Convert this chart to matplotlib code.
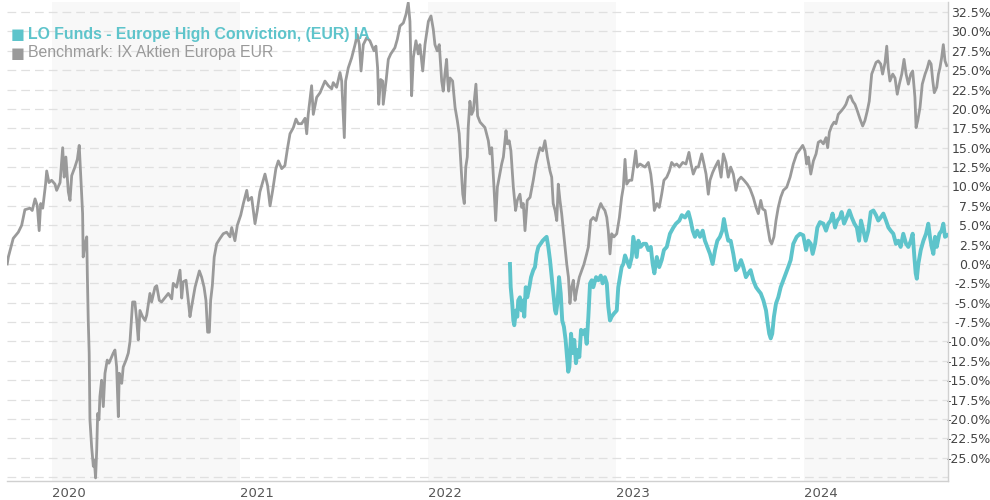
import numpy as np
import matplotlib
matplotlib.use("Agg")
import matplotlib.pyplot as plt

# benchmark: decimal year, cumulative performance in %
bench_t = [
    2019.762, 2019.768, 2019.786, 2019.794, 2019.821, 2019.839, 2019.856, 2019.883, 2019.895, 2019.910,
    2019.922, 2019.932, 2019.940, 2019.951, 2019.966, 2019.972, 2019.984, 2019.998, 2020.016, 2020.025,
    2020.043, 2020.057, 2020.065, 2020.074, 2020.087, 2020.096, 2020.105, 2020.122, 2020.135, 2020.145,
    2020.154, 2020.163, 2020.166, 2020.176, 2020.185, 2020.188, 2020.193, 2020.198, 2020.202, 2020.211,
    2020.220, 2020.225, 2020.232, 2020.238, 2020.243, 2020.250, 2020.255, 2020.264, 2020.273, 2020.282,
    2020.294, 2020.303, 2020.326, 2020.335, 2020.344, 2020.353, 2020.358, 2020.371, 2020.379, 2020.394,
    2020.406, 2020.415, 2020.429, 2020.441, 2020.451, 2020.459, 2020.468, 2020.482, 2020.495, 2020.504,
    2020.521, 2020.530, 2020.548, 2020.557, 2020.571, 2020.583, 2020.619, 2020.637, 2020.645, 2020.663,
    2020.681, 2020.690, 2020.698, 2020.713, 2020.725, 2020.734, 2020.743, 2020.761, 2020.784, 2020.796,
    2020.809, 2020.819, 2020.828, 2020.837, 2020.844, 2020.853, 2020.863, 2020.876, 2020.894, 2020.911,
    2020.929, 2020.947, 2020.956, 2020.973, 2020.986, 2021.004, 2021.018, 2021.036, 2021.044, 2021.062,
    2021.080, 2021.092, 2021.106, 2021.133, 2021.147, 2021.160, 2021.174, 2021.191, 2021.204, 2021.222,
    2021.239, 2021.252, 2021.266, 2021.284, 2021.298, 2021.310, 2021.328, 2021.346, 2021.355, 2021.363,
    2021.381, 2021.390, 2021.408, 2021.426, 2021.452, 2021.470, 2021.488, 2021.496, 2021.514, 2021.532,
    2021.541, 2021.555, 2021.562, 2021.576, 2021.594, 2021.612, 2021.624, 2021.635, 2021.644, 2021.656,
    2021.674, 2021.691, 2021.713, 2021.723, 2021.732, 2021.738, 2021.748, 2021.759, 2021.762, 2021.777,
    2021.789, 2021.802, 2021.824, 2021.837, 2021.851, 2021.869, 2021.883, 2021.895, 2021.904, 2021.913,
    2021.922, 2021.936, 2021.948, 2021.957, 2021.972, 2021.984, 2022.002, 2022.016, 2022.028, 2022.037,
    2022.049, 2022.060, 2022.073, 2022.081, 2022.090, 2022.099, 2022.105, 2022.110, 2022.117, 2022.131,
    2022.144, 2022.156, 2022.166, 2022.176, 2022.185, 2022.193, 2022.201, 2022.209, 2022.214, 2022.223,
    2022.232, 2022.241, 2022.255, 2022.264, 2022.277, 2022.303, 2022.321, 2022.330, 2022.339, 2022.351,
    2022.360, 2022.369, 2022.379, 2022.392, 2022.401, 2022.415, 2022.422, 2022.432, 2022.441, 2022.454,
    2022.466, 2022.475, 2022.489, 2022.498, 2022.507, 2022.516, 2022.528, 2022.543, 2022.560, 2022.574,
    2022.587, 2022.596, 2022.610, 2022.622, 2022.635, 2022.649, 2022.658, 2022.666, 2022.676, 2022.685,
    2022.693, 2022.702, 2022.711, 2022.720, 2022.729, 2022.738, 2022.747, 2022.755, 2022.764, 2022.773,
    2022.782, 2022.791, 2022.805, 2022.818, 2022.830, 2022.844, 2022.853, 2022.865, 2022.879, 2022.894,
    2022.906, 2022.919, 2022.929, 2022.941, 2022.951, 2022.959, 2022.968, 2022.977, 2022.989, 2023.004,
    2023.018, 2023.030, 2023.039, 2023.048, 2023.057, 2023.071, 2023.084, 2023.096, 2023.105, 2023.113,
    2023.128, 2023.154, 2023.172, 2023.185, 2023.195, 2023.204, 2023.217, 2023.230, 2023.243, 2023.255,
    2023.270, 2023.284, 2023.296, 2023.310, 2023.323, 2023.337, 2023.355, 2023.372, 2023.388, 2023.399,
    2023.411, 2023.426, 2023.438, 2023.456, 2023.468, 2023.479, 2023.491, 2023.500, 2023.514, 2023.527,
    2023.544, 2023.559, 2023.571, 2023.585, 2023.597, 2023.610, 2023.624, 2023.638, 2023.651, 2023.665,
    2023.681, 2023.698, 2023.713, 2023.730, 2023.745, 2023.757, 2023.770, 2023.780, 2023.793, 2023.807,
    2023.819, 2023.828, 2023.840, 2023.851, 2023.863, 2023.876, 2023.890, 2023.908, 2023.926, 2023.943,
    2023.961, 2023.979, 2023.993, 2024.005, 2024.014, 2024.023, 2024.036, 2024.050, 2024.064, 2024.076,
    2024.089, 2024.103, 2024.117, 2024.126, 2024.135, 2024.147, 2024.160, 2024.170, 2024.182, 2024.200,
    2024.213, 2024.223, 2024.236, 2024.248, 2024.259, 2024.271, 2024.283, 2024.298, 2024.312, 2024.324,
    2024.337, 2024.347, 2024.360, 2024.372, 2024.383, 2024.395, 2024.408, 2024.418, 2024.431, 2024.440,
    2024.448, 2024.457, 2024.472, 2024.484, 2024.496, 2024.507, 2024.520, 2024.532, 2024.543, 2024.555,
    2024.568, 2024.578, 2024.590, 2024.596, 2024.605, 2024.617, 2024.629, 2024.644, 2024.656, 2024.666,
    2024.676, 2024.685, 2024.693, 2024.706, 2024.715, 2024.723, 2024.732, 2024.741, 2024.750, 2024.759,
]
bench_v = [
    0.0, 0.9, 2.6, 3.3, 4.1, 5.0, 7.0, 7.2, 6.9, 8.4,
    7.5, 4.3, 7.8, 7.2, 10.3, 12.0, 10.5, 10.8, 10.3, 9.5,
    10.5, 15.0, 11.2, 13.8, 9.3, 8.2, 11.4, 12.5, 13.5, 15.3,
    11.0, 6.5, 0.9, 2.6, 3.5, -1.2, -7.3, -11.5, -20.1, -23.6,
    -26.1, -25.3, -27.6, -24.0, -19.3, -20.1, -17.1, -15.0, -18.4, -14.1,
    -12.4, -12.8, -11.5, -11.1, -13.3, -19.7, -14.1, -15.4, -13.3, -12.4,
    -11.5, -10.0, -4.9, -4.9, -7.3, -9.8, -6.0, -6.8, -7.3, -6.6,
    -3.8, -4.9, -3.0, -2.8, -4.7, -4.9, -3.8, -4.5, -2.5, -3.0,
    -0.8, -4.4, -2.3, -2.1, -4.7, -6.8, -5.5, -3.0, -0.9, -1.7,
    -3.0, -4.7, -8.8, -8.8, -4.7, -2.8, 0.9, 2.6, 3.3, 3.9,
    4.1, 3.5, 4.7, 3.0, 5.0, 6.3, 7.8, 9.5, 8.2, 8.6,
    5.2, 6.9, 9.3, 11.6, 10.1, 7.5, 9.5, 12.3, 13.3, 12.3,
    12.7, 14.8, 16.8, 17.6, 18.7, 18.1, 18.1, 18.8, 16.8, 19.3,
    23.0, 19.3, 21.5, 22.1, 23.6, 23.0, 22.6, 23.4, 22.8, 24.7,
    23.6, 16.3, 23.6, 25.3, 26.6, 28.3, 29.6, 28.3, 24.9, 28.3,
    29.2, 28.8, 27.5, 28.1, 25.3, 20.6, 23.8, 23.6, 20.6, 23.6,
    26.4, 27.1, 27.9, 29.0, 30.7, 31.1, 32.2, 33.7, 31.3, 21.7,
    26.6, 28.8, 27.1, 28.3, 24.9, 28.3, 31.3, 32.0, 30.3, 28.3,
    27.5, 28.3, 23.6, 22.3, 24.5, 26.4, 23.6, 22.3, 24.0, 23.6,
    20.2, 18.5, 16.8, 12.5, 9.0, 7.8, 12.5, 13.8, 17.6, 21.0,
    19.3, 19.8, 23.2, 19.1, 18.3, 17.6, 15.9, 14.2, 15.0, 9.9,
    5.6, 9.9, 11.2, 12.9, 13.8, 17.2, 15.5, 15.9, 14.6, 9.9,
    6.9, 8.2, 9.0, 7.3, 7.8, 4.3, 8.2, 8.6, 10.8, 12.9,
    14.2, 15.0, 14.6, 15.9, 13.8, 12.0, 11.2, 7.8, 6.9, 5.6,
    10.3, 8.2, 6.5, 4.3, 2.2, 0.0, -1.7, -5.1, -3.0, -2.1,
    -4.7, -3.4, -1.7, -0.8, 0.0, 1.3, 2.2, 5.6, 6.0, 5.6,
    6.9, 7.8, 7.3, 6.9, 6.0, 4.3, 1.3, 3.9, 3.5, 3.9,
    6.0, 8.6, 9.9, 13.5, 10.3, 10.8, 10.8, 12.9, 14.6, 12.5,
    12.9, 12.5, 13.1, 11.6, 9.5, 6.9, 7.8, 7.3, 9.0, 10.8,
    11.2, 12.0, 13.1, 12.7, 12.9, 12.5, 13.1, 12.9, 14.4, 12.9,
    11.6, 12.5, 12.5, 14.2, 12.9, 11.6, 9.0, 10.8, 11.8, 12.5,
    13.3, 11.2, 14.2, 13.1, 11.2, 12.5, 11.6, 9.5, 10.8, 11.2,
    10.8, 10.3, 9.7, 8.6, 7.3, 6.5, 8.2, 7.1, 6.9, 4.7,
    3.0, 2.6, 3.5, 5.6, 7.3, 8.6, 9.5, 9.9, 11.2, 12.9,
    14.2, 14.8, 15.3, 14.6, 12.9, 13.8, 11.6, 13.3, 14.2, 15.7,
    15.9, 15.5, 16.3, 15.0, 17.0, 17.8, 18.3, 18.1, 19.3, 19.8,
    20.2, 20.6, 21.5, 21.7, 21.0, 20.6, 19.8, 18.7, 17.8, 18.5,
    19.8, 21.0, 24.5, 25.3, 26.0, 26.2, 25.8, 24.5, 26.0, 28.1,
    25.3, 23.6, 24.5, 24.0, 21.9, 23.2, 24.5, 26.4, 24.5, 23.2,
    24.5, 24.9, 21.5, 17.6, 18.5, 20.2, 23.2, 24.5, 25.3, 26.2,
    25.8, 23.6, 22.1, 22.8, 24.5, 25.3, 26.6, 28.3, 26.2, 25.6,
]

# fund: decimal year, cumulative performance in %
fund_t = [
    2022.436, 2022.440, 2022.448, 2022.454, 2022.459, 2022.468, 2022.475, 2022.480, 2022.489, 2022.498,
    2022.507, 2022.512, 2022.520, 2022.528, 2022.539, 2022.548, 2022.560, 2022.569, 2022.578, 2022.587,
    2022.599, 2022.610, 2022.622, 2022.631, 2022.640, 2022.649, 2022.658, 2022.666, 2022.676, 2022.681,
    2022.690, 2022.697, 2022.706, 2022.714, 2022.723, 2022.732, 2022.741, 2022.746, 2022.752, 2022.761,
    2022.770, 2022.778, 2022.787, 2022.796, 2022.805, 2022.814, 2022.826, 2022.835, 2022.844, 2022.853,
    2022.862, 2022.871, 2022.879, 2022.894, 2022.906, 2022.919, 2022.929, 2022.941, 2022.951, 2022.959,
    2022.968, 2022.977, 2022.989, 2023.004, 2023.012, 2023.021, 2023.030, 2023.039, 2023.048, 2023.057,
    2023.071, 2023.084, 2023.092, 2023.101, 2023.110, 2023.119, 2023.131, 2023.145, 2023.160, 2023.172,
    2023.185, 2023.195, 2023.204, 2023.217, 2023.230, 2023.243, 2023.255, 2023.270, 2023.287, 2023.305,
    2023.319, 2023.337, 2023.350, 2023.367, 2023.385, 2023.397, 2023.408, 2023.420, 2023.432, 2023.447,
    2023.461, 2023.473, 2023.486, 2023.500, 2023.514, 2023.527, 2023.539, 2023.553, 2023.565, 2023.574,
    2023.585, 2023.597, 2023.610, 2023.624, 2023.638, 2023.651, 2023.665, 2023.677, 2023.691, 2023.704,
    2023.716, 2023.730, 2023.745, 2023.757, 2023.770, 2023.784, 2023.798, 2023.807, 2023.815, 2023.823,
    2023.831, 2023.840, 2023.851, 2023.863, 2023.876, 2023.890, 2023.904, 2023.916, 2023.929, 2023.943,
    2023.961, 2023.979, 2023.996, 2024.011, 2024.023, 2024.036, 2024.046, 2024.059, 2024.071, 2024.085,
    2024.103, 2024.117, 2024.129, 2024.142, 2024.152, 2024.165, 2024.177, 2024.191, 2024.200, 2024.213,
    2024.227, 2024.241, 2024.254, 2024.268, 2024.281, 2024.293, 2024.303, 2024.316, 2024.328, 2024.342,
    2024.355, 2024.369, 2024.383, 2024.395, 2024.408, 2024.422, 2024.436, 2024.449, 2024.461, 2024.475,
    2024.489, 2024.502, 2024.514, 2024.528, 2024.543, 2024.555, 2024.568, 2024.578, 2024.587, 2024.594,
    2024.600, 2024.608, 2024.621, 2024.635, 2024.649, 2024.661, 2024.670, 2024.679, 2024.688, 2024.697,
    2024.706, 2024.720, 2024.732, 2024.741, 2024.750, 2024.762,
]
fund_v = [
    0.0, -3.0, -5.1, -7.3, -7.9, -6.0, -6.8, -4.7, -4.3, -6.0,
    -4.7, -6.8, -3.0, -4.3, -3.0, -1.7, -0.8, -0.4, 1.3, 2.2,
    2.6, 3.0, 3.3, 3.5, 2.2, 0.5, -1.7, -3.8, -6.0, -6.4,
    -4.7, -1.7, -3.8, -7.3, -8.1, -9.8, -12.4, -13.9, -13.3, -9.0,
    -11.5, -9.8, -12.8, -11.1, -12.0, -8.5, -9.0, -8.5, -10.3, -6.8,
    -2.5, -2.1, -3.0, -1.7, -2.1, -1.5, -2.5, -1.7, -2.5, -5.5,
    -7.3, -6.8, -6.4, -6.0, -3.0, -1.7, -0.4, 0.0, 1.1, 0.5,
    -0.4, 0.9, 3.5, 2.2, 0.9, 3.0, 2.2, 2.6, 2.6, 1.8,
    2.2, 0.0, -1.2, 0.9, -0.4, 0.5, 1.8, 2.2, 3.9, 4.7,
    5.2, 5.6, 6.3, 6.0, 6.7, 5.6, 4.3, 3.5, 4.3, 3.5,
    4.3, 3.0, 2.2, 1.3, 0.0, 1.8, 3.0, 3.5, 4.3, 5.8,
    4.3, 3.0, 3.0, 1.3, -0.8, -0.4, 0.5, -0.4, -1.7, -1.2,
    -0.8, -2.1, -3.0, -3.4, -3.8, -4.7, -6.0, -7.7, -9.0, -9.6,
    -9.0, -6.8, -5.1, -4.3, -3.0, -2.1, -1.2, -0.4, 0.5, 2.6,
    3.5, 3.9, 3.7, 1.8, 3.0, 2.6, 1.3, 2.6, 4.7, 5.4,
    5.2, 4.3, 5.2, 5.6, 6.5, 4.7, 5.6, 6.0, 6.7, 5.2,
    6.0, 6.9, 6.0, 5.2, 4.7, 3.0, 5.6, 4.3, 3.0, 4.3,
    6.7, 6.9, 6.3, 5.6, 6.0, 6.5, 5.6, 4.7, 4.3, 3.9,
    2.6, 3.0, 2.2, 3.9, 2.6, 2.2, 3.0, 3.9, 0.9, -1.2,
    -1.9, 0.0, 1.8, 3.0, 3.9, 5.2, 3.5, 2.2, 1.3, 3.5,
    2.2, 3.9, 4.3, 5.2, 3.5, 3.7,
]

fund_name = "LO Funds - Europe High Conviction, (EUR) IA"
bench_name = "Benchmark: IX Aktien Europa EUR"
years = [2020, 2021, 2022, 2023, 2024]
y_ticks = np.arange(-25.0, 32.6, 2.5)

FUND_COLOR = "#5ec4cb"
BENCH_COLOR = "#9a9a9a"

fig = plt.figure(figsize=(9.9, 5.0), dpi=100)
ax = fig.add_axes([0.0071, 0.038, 0.9505, 0.958])

x_min, x_max = 2019.761, 2024.766
ax.set_xlim(x_min, x_max)
ax.set_ylim(-28.0, 33.8)

# alternating year bands
for yr in years[::2]:
    ax.axvspan(yr, min(yr + 1, x_max), color="#f8f8f8", zorder=0, lw=0)

for v in np.arange(-27.5, 32.6, 2.5):
    ax.axhline(v, color="#e0e0e0", lw=0.9, dashes=(7, 4), zorder=1)

ax.plot(bench_t, bench_v, color=BENCH_COLOR, lw=2.0, zorder=3)
ax.plot(fund_t, fund_v, color=FUND_COLOR, lw=2.8, zorder=4)

ax.set_xticks(years)
ax.set_xticklabels([str(y) for y in years], fontsize=9.5, color="#555555")
for lbl in ax.get_xticklabels():
    lbl.set_horizontalalignment("left")
ax.tick_params(axis="x", length=0, pad=4)

ax.yaxis.tick_right()
ax.set_yticks(y_ticks)
ax.set_yticklabels([f"{v:.1f}%" for v in y_ticks], fontsize=9, color="#444444")
for lbl in ax.get_yticklabels():
    lbl.set_horizontalalignment("right")
ax.tick_params(axis="y", length=0, pad=31)

for side in ["left", "top"]:
    ax.spines[side].set_visible(False)
for side in ["right", "bottom"]:
    ax.spines[side].set_color("#d0d0d0")
    ax.spines[side].set_linewidth(1.0)

# legend drawn as text
fig.text(11 / 990, 1 - 34 / 500, "\u25a0", color=FUND_COLOR, fontsize=10.5, va="center", family="DejaVu Sans")
fig.text(28 / 990, 1 - 34 / 500, fund_name, color=FUND_COLOR, fontsize=11.4, fontweight="bold",
         va="center", family="Liberation Sans")
fig.text(11 / 990, 1 - 53 / 500, "\u25a0", color=BENCH_COLOR, fontsize=10.5, va="center", family="DejaVu Sans")
fig.text(28 / 990, 1 - 53 / 500, bench_name, color=BENCH_COLOR, fontsize=11.4,
         va="center", family="Liberation Sans")

fig.savefig("out.png", dpi=100)
